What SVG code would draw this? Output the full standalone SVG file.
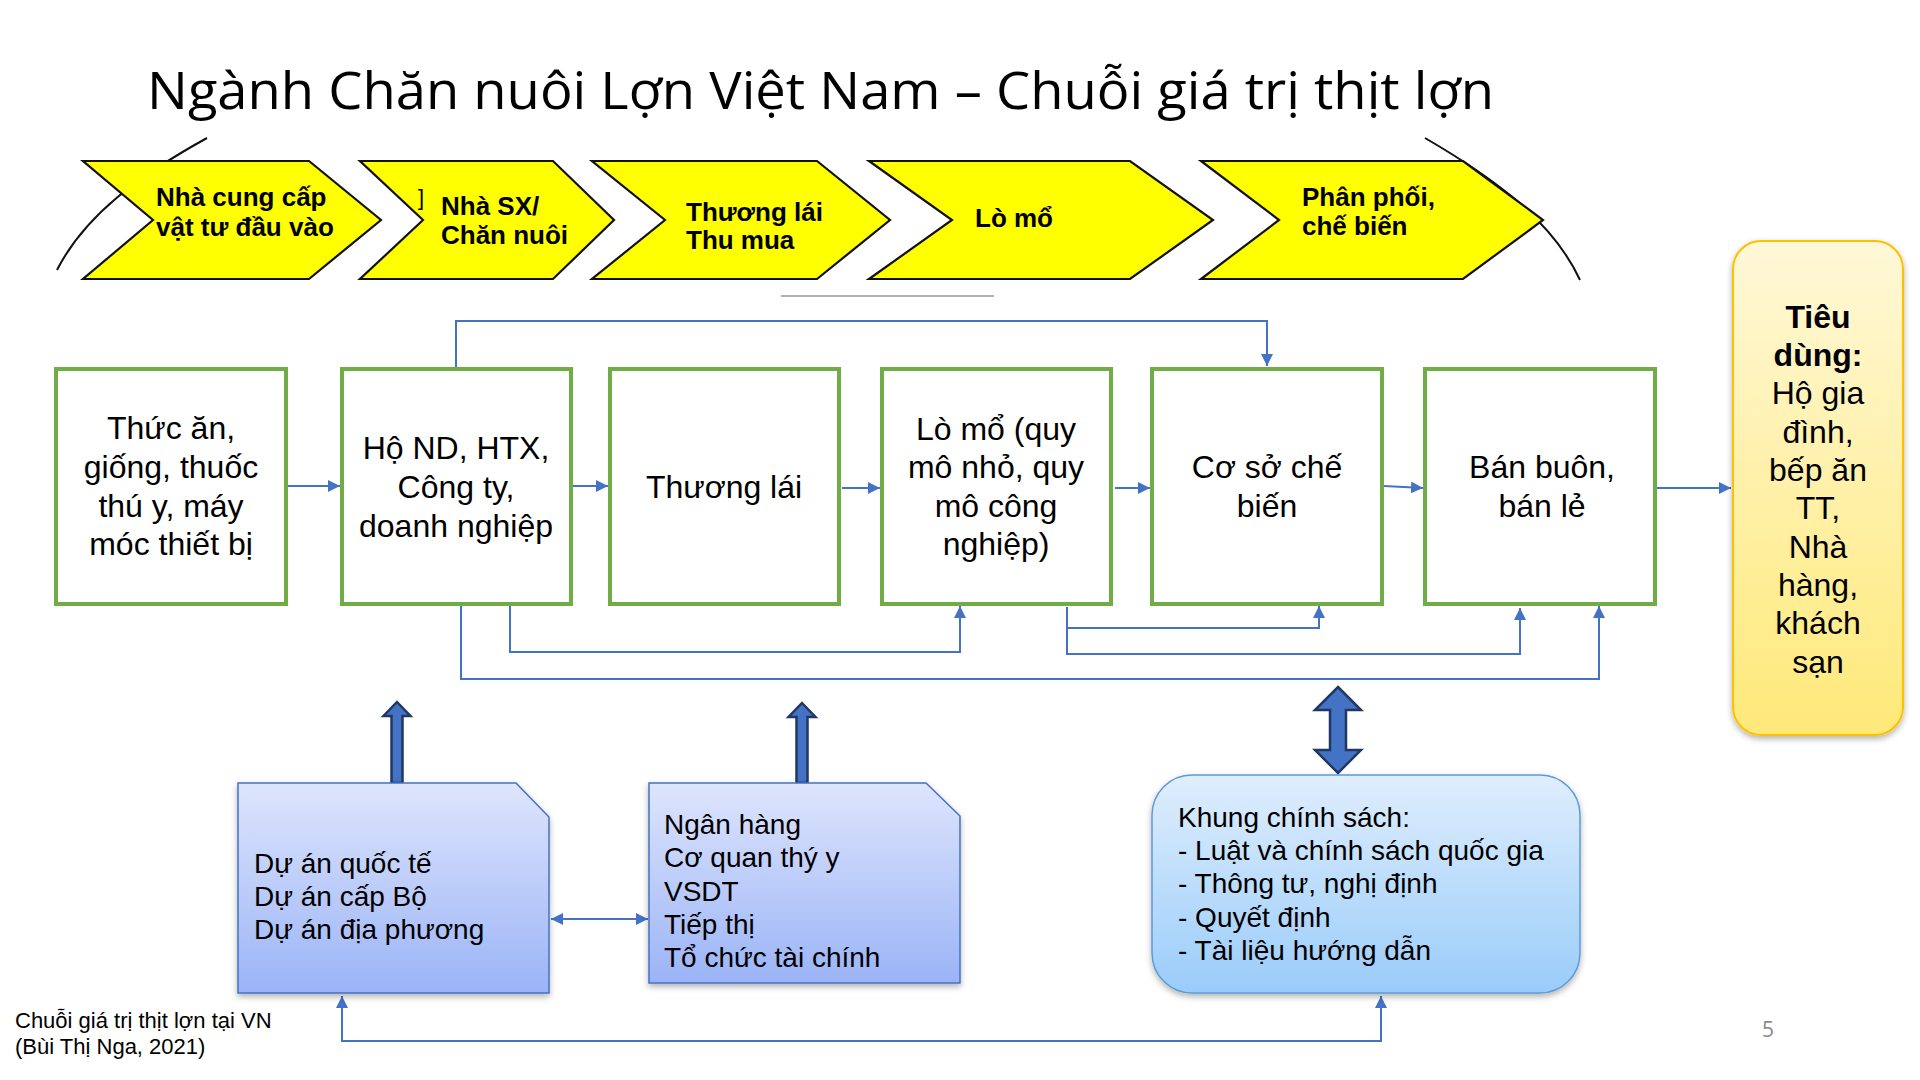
<svg xmlns="http://www.w3.org/2000/svg" width="1920" height="1080" viewBox="0 0 1920 1080">
<defs>
<style>
.title{font-family:"Open Sans","Noto Sans",sans-serif;font-size:51px;fill:#000}
.chev{fill:#FFFF00;stroke:#111;stroke-width:2.2;stroke-linejoin:miter}
.ct{font-family:"Liberation Sans",Arial,sans-serif;font-weight:bold;font-size:26px;fill:#000}
.box{fill:#fff;stroke:#70AD47;stroke-width:4}
.bt{font-family:"Liberation Sans",Arial,sans-serif;font-size:32px;fill:#000;text-anchor:middle}
.st{font-family:"Liberation Sans",Arial,sans-serif;font-size:28px;fill:#000}
.con{fill:none;stroke:#4472C4;stroke-width:2}
.arc{fill:none;stroke:#111;stroke-width:2}
.thick{fill:#4472C4;stroke:#1F3864;stroke-width:2.5;stroke-linejoin:miter}
.foot{font-family:"Liberation Sans",Arial,sans-serif;font-size:22px;fill:#000}
</style>
<marker id="ah" viewBox="0 0 12 12" refX="12" refY="6" markerWidth="12" markerHeight="12" markerUnits="userSpaceOnUse" orient="auto-start-reverse">
<path d="M0,0 L12,6 L0,12 Z" fill="#4472C4"/>
</marker>
<linearGradient id="gDoc" x1="0" y1="0" x2="0" y2="1">
<stop offset="0" stop-color="#DEE5FC"/>
<stop offset="1" stop-color="#9BB4F7"/>
</linearGradient>
<linearGradient id="gPol" x1="0" y1="0" x2="0" y2="1">
<stop offset="0" stop-color="#DFEEFD"/>
<stop offset="1" stop-color="#9ACCFA"/>
</linearGradient>
<linearGradient id="gCons" x1="0" y1="0" x2="0" y2="1">
<stop offset="0" stop-color="#FFF8D8"/>
<stop offset="1" stop-color="#FFE979"/>
</linearGradient>
<filter id="sh" x="-10%" y="-10%" width="120%" height="125%">
<feDropShadow dx="0" dy="3" stdDeviation="3" flood-color="#000" flood-opacity="0.3"/>
</filter>
</defs>
<rect width="1920" height="1080" fill="#fff"/>

<text class="title" x="147" y="109" textLength="1347" lengthAdjust="spacingAndGlyphs">Ngành Chăn nuôi Lợn Việt Nam – Chuỗi giá trị thịt lợn</text>

<g id="arcs">
<path class="arc" d="M57,270 C85,215 140,175 207,138"/>
<path class="arc" d="M1425,138 C1480,170 1550,215 1580,280"/>
</g>

<g id="chevron-1">
<polygon class="chev" points="83,161 309,161 381,220 309,279 83,279 153,220"/>
<text class="ct" x="156" y="206">Nhà cung cấp</text>
<text class="ct" x="156" y="236">vật tư đầu vào</text>
</g>
<g id="chevron-2">
<polygon class="chev" points="360,161 553,161 614,220 553,279 360,279 423,220"/>
<text class="ct" x="418" y="205" style="font-weight:normal;font-size:22px">]</text>
<text class="ct" x="441" y="215">Nhà SX/</text>
<text class="ct" x="441" y="244">Chăn nuôi</text>
</g>
<g id="chevron-3">
<polygon class="chev" points="592,161 817,161 890,220 817,279 592,279 665,220"/>
<text class="ct" x="686" y="221">Thương lái</text>
<text class="ct" x="686" y="249">Thu mua</text>
</g>
<g id="chevron-4">
<polygon class="chev" points="869,161 1130,161 1213,220 1130,279 869,279 952,220"/>
<text class="ct" x="975" y="227">Lò mổ</text>
</g>
<g id="chevron-5">
<polygon class="chev" points="1201,161 1463,161 1543,220 1463,279 1201,279 1279,220"/>
<text class="ct" x="1302" y="206">Phân phối,</text>
<text class="ct" x="1302" y="235">chế biến</text>
</g>
<line x1="781" y1="296" x2="994" y2="296" stroke="#999" stroke-width="1.5"/>

<g id="connectors">
<line class="con" x1="287" y1="486" x2="340" y2="486" marker-end="url(#ah)"/>
<line class="con" x1="573" y1="486" x2="608" y2="486" marker-end="url(#ah)"/>
<line class="con" x1="842" y1="488" x2="880" y2="488" marker-end="url(#ah)"/>
<line class="con" x1="1115" y1="488" x2="1150" y2="488" marker-end="url(#ah)"/>
<line class="con" x1="1384" y1="486" x2="1423" y2="488" marker-end="url(#ah)"/>
<line class="con" x1="1656" y1="488" x2="1731" y2="488" marker-end="url(#ah)"/>
<path class="con" d="M456,367 V321 H1267 V366" marker-end="url(#ah)"/>
<path class="con" d="M510,606 V652 H960 V606" marker-end="url(#ah)"/>
<path class="con" d="M461,606 V679 H1599 V606" marker-end="url(#ah)"/>
<path class="con" d="M1067,607 V654 H1520 V608" marker-end="url(#ah)"/>
<path class="con" d="M1067,628 H1319 V606" marker-end="url(#ah)"/>
<line class="con" x1="551" y1="919" x2="648" y2="919" marker-start="url(#ah)" marker-end="url(#ah)"/>
<path class="con" d="M342,996 V1041 H1381 V996" marker-start="url(#ah)" marker-end="url(#ah)"/>
<polygon class="thick" points="397,702 410.5,716 402.5,716 402.5,783 391.5,783 391.5,716 383.5,716"/>
<polygon class="thick" points="802,703 815.5,717 807.5,717 807.5,783 796.5,783 796.5,717 788.5,717"/>
<polygon class="thick" points="1338,687 1361,710 1346,710 1346,750 1361,750 1338,773 1315,750 1330,750 1330,710 1315,710"/>
</g>

<g id="box-inputs">
<rect class="box" x="56" y="369" width="230" height="235"/>
<text class="bt" x="171" y="439">Thức ăn,</text>
<text class="bt" x="171" y="478">giống, thuốc</text>
<text class="bt" x="171" y="517">thú y, máy</text>
<text class="bt" x="171" y="555">móc thiết bị</text>
</g>
<g id="box-farmers">
<rect class="box" x="342" y="369" width="229" height="235"/>
<text class="bt" x="456" y="459">Hộ ND, HTX,</text>
<text class="bt" x="456" y="498">Công ty,</text>
<text class="bt" x="456" y="537">doanh nghiệp</text>
</g>
<g id="box-traders">
<rect class="box" x="610" y="369" width="229" height="235"/>
<text class="bt" x="724" y="498">Thương lái</text>
</g>
<g id="box-slaughter">
<rect class="box" x="882" y="369" width="229" height="235"/>
<text class="bt" x="996" y="440">Lò mổ (quy</text>
<text class="bt" x="996" y="478">mô nhỏ, quy</text>
<text class="bt" x="996" y="517">mô công</text>
<text class="bt" x="996" y="555">nghiệp)</text>
</g>
<g id="box-processing">
<rect class="box" x="1152" y="369" width="230" height="235"/>
<text class="bt" x="1267" y="478">Cơ sở chế</text>
<text class="bt" x="1267" y="517">biến</text>
</g>
<g id="box-retail">
<rect class="box" x="1425" y="369" width="230" height="235"/>
<text class="bt" x="1542" y="478">Bán buôn,</text>
<text class="bt" x="1542" y="517">bán lẻ</text>
</g>
<g id="box-consumer">
<rect x="1733" y="241" width="170" height="494" rx="28" fill="url(#gCons)" stroke="#FFC000" stroke-width="2" filter="url(#sh)"/>
<text class="bt" x="1818" y="328" font-weight="bold">Tiêu</text>
<text class="bt" x="1818" y="366" font-weight="bold">dùng:</text>
<text class="bt" x="1818" y="404">Hộ gia</text>
<text class="bt" x="1818" y="443">đình,</text>
<text class="bt" x="1818" y="481">bếp ăn</text>
<text class="bt" x="1818" y="519">TT,</text>
<text class="bt" x="1818" y="558">Nhà</text>
<text class="bt" x="1818" y="596">hàng,</text>
<text class="bt" x="1818" y="634">khách</text>
<text class="bt" x="1818" y="673">sạn</text>
</g>

<g id="doc-projects">
<path d="M238,783 H516 L549,817 V993 H238 Z" fill="url(#gDoc)" stroke="#4472C4" stroke-width="1.5" filter="url(#sh)"/>
<text class="st" x="254" y="873">Dự án quốc tế</text>
<text class="st" x="254" y="906">Dự án cấp Bộ</text>
<text class="st" x="254" y="939">Dự án địa phương</text>
</g>
<g id="doc-services">
<path d="M649,783 H926 L960,816 V983 H649 Z" fill="url(#gDoc)" stroke="#4472C4" stroke-width="1.5" filter="url(#sh)"/>
<text class="st" x="664" y="834">Ngân hàng</text>
<text class="st" x="664" y="867">Cơ quan thý y</text>
<text class="st" x="664" y="901">VSDT</text>
<text class="st" x="664" y="934">Tiếp thị</text>
<text class="st" x="664" y="967">Tổ chức tài chính</text>
</g>
<g id="policy">
<rect x="1152" y="775" width="428" height="218" rx="40" fill="url(#gPol)" stroke="#5B9BD5" stroke-width="1.5" filter="url(#sh)"/>
<text class="st" x="1178" y="827">Khung chính sách:</text>
<text class="st" x="1178" y="860">- Luật và chính sách quốc gia</text>
<text class="st" x="1178" y="893">- Thông tư, nghị định</text>
<text class="st" x="1178" y="927">- Quyết định</text>
<text class="st" x="1178" y="960">- Tài liệu hướng dẫn</text>
</g>

<text class="foot" x="15" y="1028">Chuỗi giá trị thịt lợn tại VN</text>
<text class="foot" x="15" y="1054">(Bùi Thị Nga, 2021)</text>
<text x="1762" y="1037" font-family="Open Sans, sans-serif" font-size="21" fill="#8A8A8A">5</text>
</svg>
